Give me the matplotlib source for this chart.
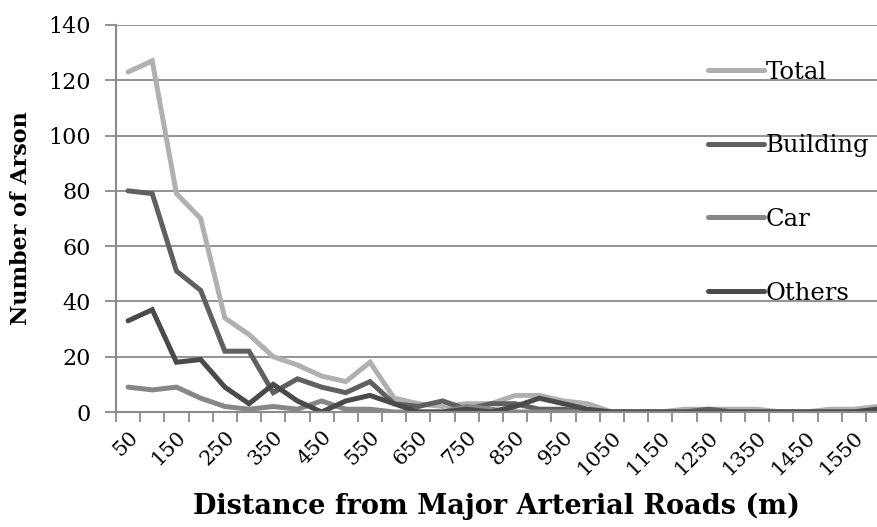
import matplotlib
matplotlib.use("Agg")
import matplotlib.pyplot as plt
import numpy as np

distances = list(range(50, 1701, 50))
total    = [123, 127, 79, 70, 34, 28, 20, 17, 13, 11, 18, 5, 3, 2, 3, 3, 6, 6, 4, 3, 0, 0, 0, 1, 1, 1, 1, 0, 0, 1, 1, 2, 3, 3]
building = [80, 79, 51, 44, 22, 22, 7, 12, 9, 7, 11, 3, 2, 4, 1, 3, 3, 1, 1, 0, 0, 0, 0, 0, 1, 0, 0, 0, 0, 0, 0, 1, 1, 1]
car      = [9, 8, 9, 5, 2, 1, 2, 1, 4, 1, 1, 0, 0, 0, 2, 1, 0, 0, 0, 0, 0, 0, 0, 0, 0, 0, 0, 0, 0, 0, 0, 0, 0, 0]
others   = [33, 37, 18, 19, 9, 3, 10, 4, 0, 4, 6, 3, 0, 0, 1, 0, 2, 5, 3, 1, 0, 0, 0, 0, 0, 0, 0, 0, 0, 0, 0, 1, 1, 1]

series_names = ["Total", "Building", "Car", "Others"]
series_vals = [total, building, car, others]
colors = ["#b0b0b0", "#606060", "#878787", "#4a4a4a"]

plt.rcParams['font.family'] = ['DejaVu Serif']

fig = plt.figure(figsize=(8.78, 5.27), dpi=100)
ax = fig.add_axes([0.1321, 0.2182, 0.8679, 0.7344])

x = np.arange(len(distances))
lines = []
for name, vals, c in zip(series_names, series_vals, colors):
    ln, = ax.plot(x, vals, color=c, lw=3.6, solid_capstyle='round', solid_joinstyle='miter', label=name)
    lines.append(ln)

ax.set_yticks(range(0, 141, 20))
ax.yaxis.grid(True, color="#8a8a8a", lw=1.3)
ax.set_axisbelow(True)

# category boundary ticks
ax.set_xticks(np.arange(-0.5, len(distances), 1.0))
ax.set_xticklabels([])
ax.tick_params(axis='x', which='major', length=7, width=1.3, color="#8a8a8a", direction='out')
ax.set_xticks(x[::2], minor=True)
ax.set_xticklabels([str(d) for d in distances[::2]], minor=True, rotation=45, ha='right', va='top', rotation_mode='anchor', fontsize=15)
ax.tick_params(axis='x', which='minor', length=0, pad=11)
ax.tick_params(axis='y', length=8, width=1.3, color="#8a8a8a", labelsize=16, pad=10)

ax.set_ylim(0, 140)
ax.set_xlim(-0.5, 31.0)

for s in ['top', 'right']:
    ax.spines[s].set_visible(False)
for s in ['left', 'bottom']:
    ax.spines[s].set_color("#8a8a8a")
    ax.spines[s].set_linewidth(1.5)

ax.set_ylabel("Number of Arson", fontsize=16, fontweight='bold', labelpad=12)
ax.set_xlabel("Distance from Major Arterial Roads (m)", fontsize=19.5, fontweight='bold', labelpad=10)

leg = fig.legend(handles=lines, loc='upper left', bbox_to_anchor=(0.795, 0.903), frameon=False,
                 fontsize=17.5, handlelength=2.3, handletextpad=0.1, labelspacing=2.08, borderaxespad=0)

fig.savefig("out.png", dpi=100)
